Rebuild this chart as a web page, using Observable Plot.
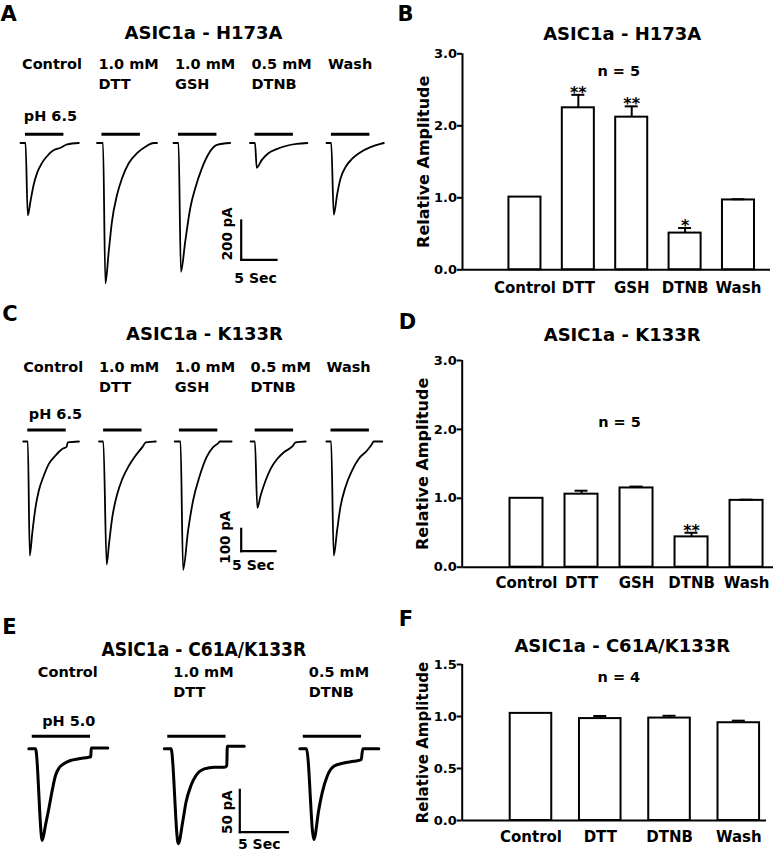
<!DOCTYPE html>
<html><head><meta charset="utf-8">
<script src="https://cdn.jsdelivr.net/npm/d3@7"></script>
<script src="https://cdn.jsdelivr.net/npm/@observablehq/plot@0.6"></script>
<style>
html,body{margin:0;padding:0;background:#fff;}
#fig{position:relative;width:773px;height:853px;overflow:hidden;background:#fff;}
.panel{position:absolute;}
.panel svg{overflow:visible;max-width:none !important;display:block;}
</style></head><body><div id="fig"></div>
<script>
// ---------------- DATA ----------------
// Panel A: ASIC1a - H173A current traces  [time (s) from sweep start, current (pA)]
const titleA = "ASIC1a - H173A";
const labelsA = ["Control", "1.0 mM\nDTT", "1.0 mM\nGSH", "0.5 mM\nDTNB", "Wash"];
const stimA = [0.7, 6.15];          // pH 6.5 application (s)
const stimLabelA = "pH 6.5";
const scaleA = {sec: 5, pA: 200};
const traceA_Control = [[0,0],[0.71,0],[1.03,-368],[1.42,-295],[1.88,-210],[2.37,-151],[3.07,-100],[3.78,-66],[4.72,-36],[5.67,-24],[6.61,-7],[8.26,0]];
const traceA_DTT     = [[0,0],[0.85,0],[1.19,-714],[1.66,-553],[2.12,-400],[2.83,-265],[3.54,-180],[4.49,-103],[5.67,-52],[6.86,-19],[8.03,0],[8.5,0]];
const traceA_GSH     = [[0,0],[0.71,0],[1.05,-655],[1.66,-502],[2.37,-332],[3.07,-231],[4.02,-129],[4.96,-56],[6.15,-10],[8.03,0]];
const traceA_DTNB    = [[0,0],[0.71,0],[0.95,-126],[1.66,-87],[2.6,-52],[3.78,-31],[5.2,-14],[6.6,-5],[8.13,0]];
const traceA_Wash    = [[0,0],[0.67,0],[1.03,-365],[1.52,-259],[1.98,-182],[2.69,-123],[3.64,-80],[4.82,-47],[6.23,-21],[7.65,-4],[8.12,0]];

// Panel B: relative amplitude, H173A
const titleB = "ASIC1a - H173A";
const catsB = ["Control", "DTT", "GSH", "DTNB", "Wash"];
const meanB = [1.01, 2.25, 2.12, 0.51, 0.97];
const semB  = [0, 0.18, 0.15, 0.07, 0.01];
const sigB  = ["", "**", "**", "*", ""];
const nB = "n = 5";
const yTicksB = [0, 1, 2, 3];

// Panel C: ASIC1a - K133R current traces
const titleC = "ASIC1a - K133R";
const labelsC = ["Control", "1.0 mM\nDTT", "1.0 mM\nGSH", "0.5 mM\nDTNB", "Wash"];
const stimC = [0.67, 6.27];
const stimLabelC = "pH 6.5";
const scaleC = {sec: 5, pA: 100};
const traceC_Control = [[0,0],[0.67,0],[0.96,-509],[1.31,-412],[1.8,-293],[2.28,-219],[3.01,-152],[3.74,-100],[4.72,-62],[5.69,-33],[6.32,-24],[6.5,-4],[8.12,0]];
const traceC_DTT     = [[0,0],[0.63,0],[1.12,-549],[1.46,-457],[1.94,-338],[2.67,-233],[3.4,-167],[4.38,-107],[5.36,-62],[6.32,-25],[6.82,-4],[8.28,0]];
const traceC_GSH     = [[0,0],[0.83,0],[1.21,-573],[1.94,-397],[2.67,-263],[3.65,-152],[4.63,-70],[5.59,-25],[6.32,-8],[6.57,0],[8.28,0]];
const traceC_DTNB    = [[0,0],[0.63,0],[0.98,-296],[1.46,-241],[2.19,-174],[2.92,-122],[3.9,-77],[4.86,-48],[6.09,-22],[6.57,-4],[8.03,0]];
const traceC_Wash    = [[0,0],[0.69,0],[1.07,-509],[1.56,-397],[2.04,-293],[2.77,-204],[3.75,-129],[4.72,-77],[5.94,-40],[6.67,-10],[6.86,0],[8.13,0]];

// Panel D: relative amplitude, K133R
const titleD = "ASIC1a - K133R";
const catsD = ["Control", "DTT", "GSH", "DTNB", "Wash"];
const meanD = [1.0, 1.06, 1.15, 0.44, 0.97];
const semD  = [0, 0.05, 0.02, 0.06, 0.01];
const sigD  = ["", "", "", "**", ""];
const nD = "n = 5";
const yTicksD = [0, 1, 2, 3];

// Panel E: ASIC1a - C61A/K133R current traces
const titleE = "ASIC1a - C61A/K133R";
const labelsE = ["Control", "1.0 mM\nDTT", "0.5 mM\nDTNB"];
const stimE = [0.36, 6.43];
const stimLabelE = "pH 5.0";
const scaleE = {sec: 5, pA: 50};
const traceE_Control = [[0,0],[0.7,0],[1.4,-108],[1.74,-90],[2.08,-71],[2.44,-49],[2.78,-31.5],[3.13,-23],[3.65,-17.7],[4.34,-13.8],[5.21,-11.8],[6.25,-9.9],[6.46,-9.4],[6.5,1],[8.23,1]];
const traceE_DTT     = [[0,0],[0.7,0],[1.46,-112],[1.91,-86.6],[2.26,-63],[2.78,-43.3],[3.3,-31.5],[4.17,-23.6],[5.21,-21.7],[6.25,-21.7],[6.51,-20],[6.56,3],[8.33,3]];
const traceE_DTNB    = [[0,0],[0.7,0],[1.46,-107],[1.98,-71.7],[2.33,-52],[2.85,-32.4],[3.54,-20.6],[4.58,-16.7],[5.63,-14.7],[6.4,-12.7],[6.56,0],[8.23,0]];

// Panel F: relative amplitude, C61A/K133R
const titleF = "ASIC1a - C61A/K133R";
const catsF = ["Control", "DTT", "DTNB", "Wash"];
const meanF = [1.03, 0.98, 0.985, 0.94];
const semF  = [0, 0.025, 0.022, 0.02];
const sigF  = ["", "", "", ""];
const nF = "n = 4";
const yTicksF = [0, 0.5, 1, 1.5];

// ---------------- LAYOUT / DRAWING ----------------
const FONT = "'DejaVu Sans', 'Liberation Sans', sans-serif";
const fig = document.getElementById("fig");
function place(svg, left, top) {
  const d = document.createElement("div");
  d.className = "panel"; d.style.left = left + "px"; d.style.top = top + "px";
  d.appendChild(svg); fig.appendChild(d);
}
const baseStyle = {fontFamily: FONT, fontWeight: "bold", fontSize: "14px", background: "transparent", overflow: "visible", color: "black"};

function tracePanel(c) {
  const gap = c.gapPx / c.pxPerSec;
  const xDomain = [-c.x0px / c.pxPerSec, (c.width - c.x0px) / c.pxPerSec];
  const yDomain = [-(c.height - c.basePx) / c.pxPerPA, c.basePx / c.pxPerPA];
  const pts = c.traces.flatMap((tr, i) => tr.map(([t, I]) => ({sweep: i, t: t + i * gap, I})));
  const sweeps = c.labels.map((label, i) => ({i, label, start: i * gap}));
  const tc = (c.corner[0] - c.x0px) / c.pxPerSec;
  const Ic = (c.basePx - c.corner[1]) / c.pxPerPA;
  const bars = [
    {x1: tc, y1: Ic, x2: tc, y2: Ic + c.scale.pA},
    {x1: tc, y1: Ic, x2: tc + c.scale.sec, y2: Ic}
  ];
  const lh = 20 / 14.5;
  return Plot.plot({
    width: c.width, height: c.height,
    marginLeft: 0, marginRight: 0, marginTop: 0, marginBottom: 0,
    style: baseStyle,
    x: {domain: xDomain, axis: null},
    y: {domain: yDomain, axis: null},
    marks: [
      Plot.line(pts, {x: "t", y: "I", z: "sweep", stroke: "black", strokeWidth: c.traceWidth, curve: "monotone-x", strokeLinejoin: "round"}),
      Plot.ruleY(sweeps, {y: () => 0, x1: d => d.start + c.stim[0], x2: d => d.start + c.stim[1], dy: c.stimDy, stroke: "black", strokeWidth: 3}),
      Plot.text(sweeps, {x: "start", text: "label", frameAnchor: "top", textAnchor: "start", lineAnchor: "top", lineHeight: lh, dx: c.labelDx, dy: c.labelDy, fontSize: 14.5}),
      Plot.text([c.stimLabel], {x: () => 0, text: d => d, frameAnchor: "top", textAnchor: "start", lineAnchor: "bottom", dx: c.stimLabelDx, dy: c.stimLabelY, fontSize: 14.5}),
      Plot.text([c.title], {frameAnchor: "top", text: d => d, lineAnchor: "bottom", dx: c.titleDx, dy: c.titleY, fontSize: c.titleSize, fontFamily: c.titleFont || FONT}),
      Plot.text([c.letter], {frameAnchor: "top-left", text: d => d, textAnchor: "start", lineAnchor: "bottom", dx: c.letterDx, dy: c.letterY, fontSize: 21}),
      Plot.link(bars, {x1: "x1", y1: "y1", x2: "x2", y2: "y2", stroke: "black", strokeWidth: 2.2, strokeLinecap: "square"}),
      Plot.text([`${c.scale.pA} pA`], {x: () => tc, y: () => Ic + c.scale.pA / 2, text: d => d, rotate: -90, textAnchor: "middle", lineAnchor: "middle", dx: c.pALabel[0], dy: c.pALabel[1], fontSize: 13.5}),
      Plot.text([`${c.scale.sec} Sec`], {x: () => tc + c.scale.sec / 2, y: () => Ic, text: d => d, textAnchor: "middle", lineAnchor: "bottom", dx: c.secLabel[0], dy: c.secLabel[1], fontSize: 14})
    ]
  });
}

function barPanel(c) {
  const data = c.cats.map((cat, i) => ({x: i + 1, cat, m: c.mean[i], e: c.sem[i], s: c.sig[i]}));
  const unit = (c.width - c.ml - c.mr) / (c.xDomain[1] - c.xDomain[0]);
  const halfBar = 0.3, capHalf = 6.5 / unit, tickLen = 5 / unit;
  const withErr = data.filter(d => d.e > 0);
  const fmt = d3.format(".1f");
  return Plot.plot({
    width: c.width, height: c.height,
    marginLeft: c.ml, marginRight: c.mr, marginTop: c.mt, marginBottom: c.mb,
    style: baseStyle,
    x: {domain: c.xDomain, axis: null},
    y: {domain: [0, c.yTicks[c.yTicks.length - 1]], axis: null},
    marks: [
      Plot.rect(data, {x1: d => d.x - halfBar, x2: d => d.x + halfBar, y1: () => 0, y2: "m", fill: "white", stroke: "black", strokeWidth: 2}),
      Plot.ruleX(withErr, {x: "x", y1: "m", y2: d => d.m + d.e, stroke: "black", strokeWidth: 2}),
      Plot.ruleY(withErr, {y: d => d.m + d.e, x1: d => d.x - capHalf, x2: d => d.x + capHalf, stroke: "black", strokeWidth: 2}),
      Plot.text(data.filter(d => d.s), {x: "x", y: d => d.m + d.e, text: "s", lineAnchor: "bottom", dy: 3, fontSize: 16}),
      Plot.ruleY([0], {stroke: "black", strokeWidth: 2}),
      Plot.ruleX([c.xDomain[0]], {stroke: "black", strokeWidth: 2}),
      // y axis ticks and labels
      Plot.ruleY(c.yTicks, {x1: c.xDomain[0] - tickLen, x2: c.xDomain[0], stroke: "black", strokeWidth: 2}),
      Plot.text(c.yTicks, {x: () => c.xDomain[0], y: d => d, text: d => fmt(d), textAnchor: "end", lineAnchor: "middle", dx: -5.5, fontSize: 13}),
      // x axis category labels
      Plot.text(data, {x: "x", text: "cat", frameAnchor: "bottom", lineAnchor: "top", dy: c.xPad, fontSize: c.xFont}),
      Plot.text([c.yLabel], {frameAnchor: "left", text: d => d, rotate: -90, textAnchor: "middle", lineAnchor: "middle", dx: -39, fontSize: c.yLabelSize}),
      Plot.text([c.title], {frameAnchor: "top", text: d => d, lineAnchor: "bottom", dx: c.titleDx, dy: c.titleDy, fontSize: 18}),
      Plot.text([c.n], {frameAnchor: "top", text: d => d, lineAnchor: "bottom", dx: c.nDx, dy: c.nDy, fontSize: 14.5}),
      Plot.text([c.letter], {frameAnchor: "top-left", text: d => d, textAnchor: "start", lineAnchor: "bottom", dx: c.letterDx, dy: c.letterDy, fontSize: 21})
    ]
  });
}

// Panel A
place(tracePanel({
  width: 390, height: 300, x0px: 20, basePx: 142.5, pxPerSec: 7.06, pxPerPA: 0.1965, gapPx: 76.5,
  traces: [traceA_Control, traceA_DTT, traceA_GSH, traceA_DTNB, traceA_Wash], traceWidth: 1.8,
  labels: labelsA, stim: stimA, stimDy: -8.7, stimLabel: stimLabelA, stimLabelDx: 3.3, stimLabelY: 120,
  labelDx: 1.5, labelDy: 54.1, title: titleA, titleDx: 8, titleY: 38, titleSize: 18,
  letter: "A", letterDx: 0, letterY: 20,
  scale: scaleA, corner: [240.7, 259.3], pALabel: [-14, -6.3], secLabel: [-3.3, 23.4]
}), 0, 0);

// Panel C
place(tracePanel({
  width: 390, height: 300, x0px: 22.7, basePx: 141, pxPerSec: 6.86, pxPerPA: 0.224, gapPx: 75.8,
  traces: [traceC_Control, traceC_DTT, traceC_GSH, traceC_DTNB, traceC_Wash], traceWidth: 1.8,
  labels: labelsC, stim: stimC, stimDy: -11.5, stimLabel: stimLabelC, stimLabelDx: 5.6, stimLabelY: 118.3,
  labelDx: 0, labelDy: 57.5, title: titleC, titleDx: 9, titleY: 39.3, titleSize: 18,
  letter: "C", letterDx: 1.7, letterY: 20,
  scale: scaleC, corner: [240.7, 250.7], pALabel: [-15.7, -2.8], secLabel: [-5, 18.6]
}), 0, 300);

// Panel E
place(tracePanel({
  width: 390, height: 253, x0px: 28.3, basePx: 148.3, pxPerSec: 9.6, pxPerPA: 0.848, gapPx: 135.5,
  traces: [traceE_Control, traceE_DTT, traceE_DTNB], traceWidth: 3,
  labels: labelsE, stim: stimE, stimDy: -12.6, stimLabel: stimLabelE, stimLabelDx: 13.4, stimLabelY: 125,
  labelDx: 9, labelDy: 62.8, title: titleE, titleDx: 8.3, titleY: 55, titleSize: 19, titleFont: "'Liberation Sans Narrow', 'DejaVu Sans Condensed', sans-serif",
  letter: "E", letterDx: 1.7, letterY: 33.3,
  scale: scaleE, corner: [239.3, 231.7], pALabel: [-11.8, 1.2], secLabel: [-4.6, 17]
}), 0, 600);

// Panel B
place(barPanel({
  width: 393, height: 300, ml: 82, mr: 3, mt: 53.3, mb: 30.7, xDomain: [-0.17, 5.6],
  cats: catsB, mean: meanB, sem: semB, sig: sigB, yTicks: yTicksB,
  xPad: 12.4, xFont: 15, yLabel: "Relative Amplitude", yLabelSize: 16,
  title: titleB, titleDx: 5.7, titleDy: -14, n: nB, nDx: 2.3, nDy: 21.7,
  letter: "B", letterDx: -65, letterDy: -33.3
}), 380, 0);

// Panel D
place(barPanel({
  width: 393, height: 300, ml: 81.7, mr: 0, mt: 60, mb: 33.3, xDomain: [-0.169, 5.49],
  cats: catsD, mean: meanD, sem: semD, sig: sigD, yTicks: yTicksD,
  xPad: 10, xFont: 15, yLabel: "Relative Amplitude", yLabelSize: 16,
  title: titleD, titleDx: 4.3, titleDy: -20, n: nD, nDx: 1.7, nDy: 66,
  letter: "D", letterDx: -63.4, letterDy: -31.7
}), 380, 300);

// Panel F
place(barPanel({
  width: 393, height: 253, ml: 81.7, mr: 7, mt: 64, mb: 33, xDomain: [0.007, 4.40],
  cats: catsF, mean: meanF, sem: semF, sig: sigF, yTicks: yTicksF,
  xPad: 11, xFont: 15, yLabel: "Relative Amplitude", yLabelSize: 15,
  title: titleF, titleDx: 7.9, titleDy: -12.3, n: nF, nDx: 4.5, nDy: 17.7,
  letter: "F", letterDx: -63.4, letterDy: -39
}), 380, 600);
</script></body></html>
